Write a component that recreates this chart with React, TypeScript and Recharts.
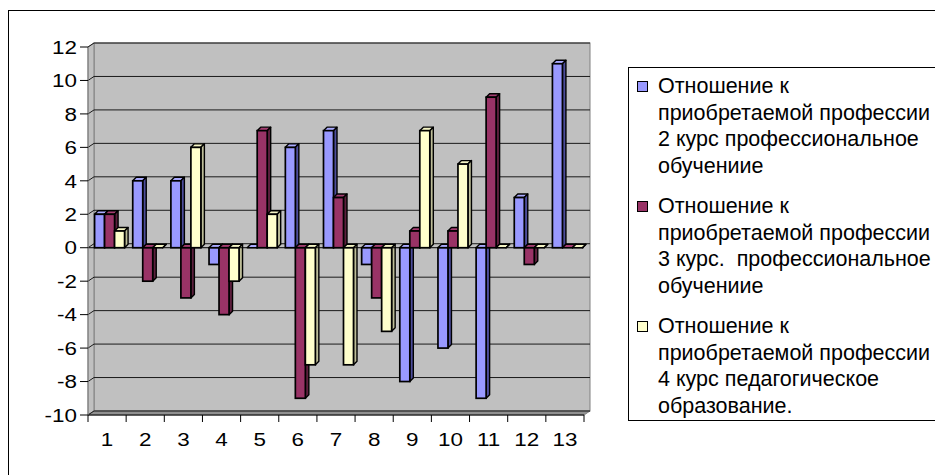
import { BarChart, Bar, XAxis, YAxis, CartesianGrid, Legend, ReferenceLine } from 'recharts'

const categories = ['1', '2', '3', '4', '5', '6', '7', '8', '9', '10', '11', '12', '13']
const course2 = [2, 4, 4, -1, 0, 6, 7, -1, -8, -6, -9, 3, 11]
const course3 = [2, -2, -3, -4, 7, -9, 3, -3, 1, 1, 9, -1, 0]
const course4 = [1, 0, 6, -2, 2, -7, -7, -5, 7, 5, 0, 0, 0]
const yTicks = [-10, -8, -6, -4, -2, 0, 2, 4, 6, 8, 10, 12]
const seriesNames = [
  'Отношение к\nприобретаемой профессии\n2 курс профессиональное\nобучениие',
  'Отношение к\nприобретаемой профессии\n3 курс.  профессиональное\nобучениие',
  'Отношение к\nприобретаемой профессии\n4 курс педагогическое\nобразование.',
]

const data = categories.map((name, i) => ({
  name,
  s2: course2[i],
  s3: course3[i],
  s4: course4[i],
}))

// plot box and 3d depth of the back wall
const PLOT = { left: 88, top: 47, right: 584, bottom: 415 }
const DX = 6
const DY = -4
const FONT = '"Liberation Sans", Arial, sans-serif'
// the source picture is a little stretched sideways
const STRETCH = 1.18

const SERIES = [
  { key: 's2', face: '#9999FF', top: '#AAAAFF', side: '#4D4D9C' },
  { key: 's3', face: '#993366', top: '#A33D70', side: '#5C1F3D' },
  { key: 's4', face: '#FFFFCC', top: '#F4F4C4', side: '#BDBD98' },
]

function Bar3D(props: any) {
  const { x, y, width, height, face, top, side } = props
  if (x == null || y == null) return null
  const t = Math.min(y, y + height)
  const h = Math.abs(height)
  const d = 3.5
  const x0 = x + 2
  return (
    <g>
      <polygon
        points={`${x0},${t} ${x0 + d},${t - d} ${x0 + width + d},${t - d} ${x0 + width},${t}`}
        fill={top}
        stroke="#000"
        strokeWidth={1.4}
        strokeLinejoin="round"
      />
      <polygon
        points={`${x0 + width},${t} ${x0 + width + d},${t - d} ${x0 + width + d},${t + h - d} ${x0 + width},${t + h}`}
        fill={side}
        stroke="#000"
        strokeWidth={1.4}
        strokeLinejoin="round"
      />
      <rect x={x0} y={t} width={width} height={h} fill={face} stroke="#000" strokeWidth={1.7} />
    </g>
  )
}

function Walls() {
  const { left: L, top: T, right: R, bottom: B } = PLOT
  return (
    <g>
      <rect x={L + DX} y={T + DY} width={R - L} height={B - T} fill="#C0C0C0" stroke="#808080" />
      <polygon
        points={`${L},${T} ${L + DX},${T + DY} ${L + DX},${B + DY} ${L},${B}`}
        fill="#C0C0C0"
        stroke="#808080"
      />
      <polygon
        points={`${L},${B} ${L + DX},${B + DY} ${R + DX},${B + DY} ${R},${B}`}
        fill="#909090"
        stroke="#808080"
      />
    </g>
  )
}

function GridLine(p: any) {
  const { x1, x2, y1, index } = p
  return (
    <g key={`grid-${index}`}>
      {index === 0 && <Walls />}
      <polyline
        points={`${x1},${y1} ${x1 + DX},${y1 + DY} ${x2 + DX},${y1 + DY}`}
        fill="none"
        stroke="#1a1a1a"
        strokeWidth={1}
      />
    </g>
  )
}

function ValueTick(props: any) {
  const { x, y, payload } = props
  return (
    <g transform={`translate(${x},${y}) scale(${STRETCH},1)`}>
      <text x={0} y={0} dy="0.355em" textAnchor="end" fill="#000" fontSize={19} fontFamily={FONT}>
        {payload.value}
      </text>
    </g>
  )
}

function CategoryTick(props: any) {
  const { x, y, payload, index, visibleTicksCount } = props
  const half = payload.offset || 0
  const axisY = y - 17
  const last = index === visibleTicksCount - 1
  return (
    <g>
      <line x1={x - half} y1={axisY} x2={x - half} y2={axisY + 7} stroke="#000" />
      {last && <line x1={x + half} y1={axisY} x2={x + half} y2={axisY + 7} stroke="#000" />}
      <g transform={`translate(${x},${y}) scale(${STRETCH},1)`}>
        <text x={0} y={0} dy="0.71em" textAnchor="middle" fill="#000" fontSize={19} fontFamily={FONT}>
          {payload.value}
        </text>
      </g>
    </g>
  )
}

function LegendBox(props: any) {
  const { payload } = props
  return (
    <div
      style={{
        boxSizing: 'border-box',
        width: 330,
        height: 354,
        border: '1px solid #000',
        background: '#fff',
        padding: '5px 0 0 8px',
        fontFamily: FONT,
        fontSize: 21.5,
        lineHeight: '26.5px',
        color: '#000',
      }}
    >
      {(payload || []).map((item: any, i: number) => (
        <div key={i} style={{ display: 'flex', alignItems: 'flex-start', marginBottom: 14 }}>
          <span
            style={{
              display: 'inline-block',
              boxSizing: 'border-box',
              width: 11,
              height: 11,
              marginTop: 8,
              marginRight: 10,
              background: item.color,
              border: '1px solid #000',
              flex: 'none',
            }}
          />
          <span style={{ whiteSpace: 'pre' }}>{item.value}</span>
        </div>
      ))}
    </div>
  )
}

export default function App() {
  return (
    <div
      style={{
        position: 'absolute',
        left: 0,
        top: 0,
        width: 935,
        height: 475,
        overflow: 'hidden',
        background: '#fff',
      }}
    >
      <div
        style={{
          position: 'absolute',
          left: 8,
          top: 10,
          width: 1000,
          height: 1000,
          border: '1px solid #000',
        }}
      />
      <div style={{ position: 'absolute', left: 0, top: 0 }}>
        <BarChart
          width={935}
          height={475}
          data={data}
          margin={{ top: PLOT.top, right: 935 - PLOT.right, bottom: 30, left: PLOT.left - 60 }}
          barCategoryGap="12%"
          barGap={0}
        >
          <CartesianGrid vertical={false} horizontal={GridLine} />
          <ReferenceLine y={0} stroke="#000" />
          {SERIES.map((s, i) => (
            <Bar
              key={s.key}
              dataKey={s.key}
              name={seriesNames[i]}
              fill={s.face}
              isAnimationActive={false}
              shape={(p: any) => <Bar3D {...p} face={s.face} top={s.top} side={s.side} />}
            />
          ))}
          <XAxis
            dataKey="name"
            height={30}
            tickSize={0}
            tickMargin={17}
            axisLine={{ stroke: '#000' }}
            tickLine={false}
            interval={0}
            tick={<CategoryTick />}
          />
          <YAxis
            width={60}
            domain={[-10, 12]}
            ticks={yTicks}
            interval={0}
            tickSize={8}
            tickMargin={3}
            axisLine={{ stroke: '#808080' }}
            tickLine={{ stroke: '#000' }}
            tick={<ValueTick />}
          />
          <Legend
            layout="vertical"
            align="center"
            verticalAlign="middle"
            content={<LegendBox />}
            wrapperStyle={{ left: 628, top: 67, width: 330, height: 354 }}
          />
        </BarChart>
      </div>
    </div>
  )
}
